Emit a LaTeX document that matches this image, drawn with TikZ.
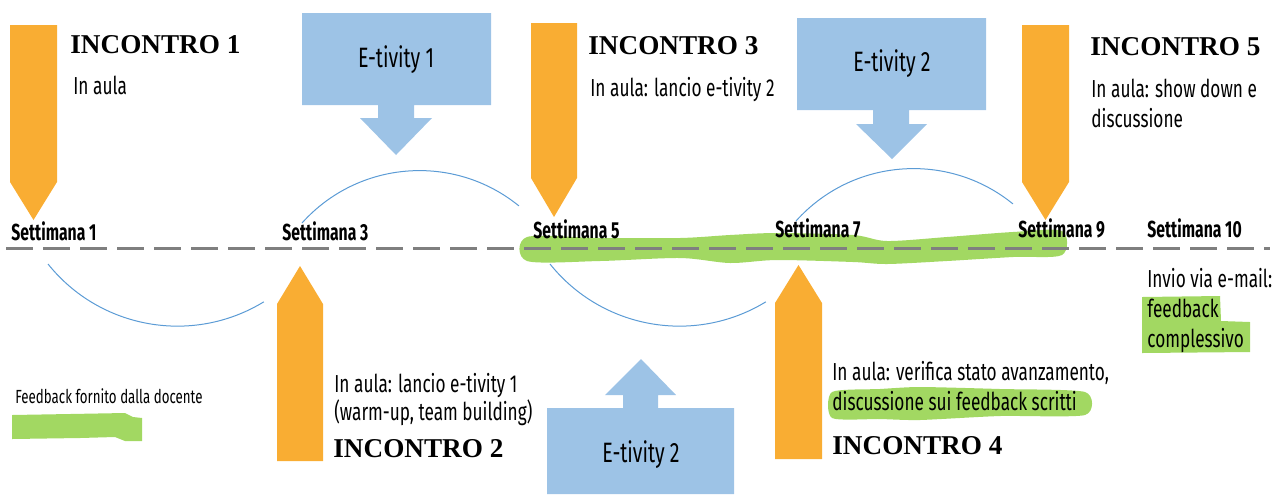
\documentclass[tikz,border=0pt]{standalone}
\usepackage{fontspec}
\newfontfamily\cond[FakeStretch=0.70]{Fira Sans}
\newfontfamily\condb[FakeStretch=0.68]{Fira Sans}
\newfontfamily\incf{Liberation Serif}
\definecolor{orng}{HTML}{F9AD33}
\definecolor{bluef}{HTML}{9DC3E6}
\definecolor{arcc}{HTML}{5B9BD5}
\definecolor{grn}{HTML}{A2D862}
\definecolor{dashg}{HTML}{7F7F7F}
\begin{document}
\begin{tikzpicture}[x=0.5pt,y=-0.5pt,
  week/.style={font=\condb\bfseries\fontsize{11.6}{14}\selectfont, anchor=base west, inner sep=0},
  lbl/.style={font=\cond\fontsize{12.3}{14.5}\selectfont, anchor=base west, inner sep=0},
  inc/.style={font=\incf\bfseries\fontsize{13.6}{16}\selectfont, anchor=base west, inner sep=0},
  etv/.style={font=\cond\fontsize{14}{17}\selectfont, inner sep=0},
  legend/.style={font=\cond\fontsize{9.5}{12}\selectfont, anchor=base west, inner sep=0},
  orangearrow/.style={fill=orng, draw=none},
  bluearrow/.style={fill=bluef, draw=none},
  arcline/.style={draw=arcc, line width=0.5pt},
  highlight/.style={fill=grn, draw=none}
]
\useasboundingbox (0,0) rectangle (1273,494);

% green highlights
\fill[highlight] plot[smooth cycle, tension=0.5] coordinates {
  (527,237) (600,238) (680,238) (730,235) (777,233) (853,235) (887,241) (947,237) (1013,232) (1062,231)
  (1062,255) (1013,257) (947,261) (887,264) (853,262) (777,260) (730,263) (680,258) (600,261) (527,261)};
\fill[highlight] (527,237) rectangle (540,261);
\fill[highlight] (1050,231) rectangle (1062,255);
\fill[highlight] plot[smooth cycle, tension=0.4] coordinates {
  (832,392) (880,389) (920,387) (1000,389) (1085,392) (1085,415) (1000,416) (920,420) (880,419) (832,418)};
\fill[highlight] (1142,297) -- (1220,296) -- (1221,321) -- (1250,322) -- (1250,352) -- (1142,353) -- cycle;
\fill[highlight] (12,415) -- (70,414) -- (125,413) -- (133,417) -- (142,418) -- (142,441) -- (125,441) -- (115,437) -- (80,438) -- (12,439) -- cycle;

% dashed timeline
\draw[dashg, line width=1.5pt, dash pattern=on 13.5pt off 5pt] (6,248) -- (1270,248);

% arcs (circle segments)
\draw[arcline] (302,223) arc[start angle=-138.1, end angle=-50.9, radius=157.8];
\draw[arcline] (796,221) arc[start angle=-138.1, end angle=-50.9, radius=157.8];
\draw[arcline] (48,264) arc[start angle=141.3, end angle=58.6, radius=165.8];
\draw[arcline] (550,264) arc[start angle=141.3, end angle=58.6, radius=165.8];

% orange arrows
\fill[orangearrow] (10,25) -- (57,25) -- (57,182) -- (33.5,220) -- (10,182) -- cycle;
\fill[orangearrow] (531,23) -- (577,23) -- (577,178) -- (554,217) -- (531,178) -- cycle;
\fill[orangearrow] (1022,25) -- (1069,25) -- (1069,182) -- (1045.5,220) -- (1022,182) -- cycle;
\fill[orangearrow] (277,461) -- (323,461) -- (323,304) -- (300,266) -- (277,304) -- cycle;
\fill[orangearrow] (775,459) -- (822,459) -- (822,303) -- (798.5,265) -- (775,303) -- cycle;

% blue callouts
\fill[bluearrow] (302,13) -- (491,13) -- (491,105) -- (414,105) -- (414,118) -- (432,118) -- (396,155) -- (360,118) -- (378,118) -- (378,105) -- (302,105) -- cycle;
\fill[bluearrow] (797,18) -- (986,18) -- (986,110) -- (909,110) -- (909,124) -- (927,124) -- (892,159) -- (856,124) -- (873,124) -- (873,110) -- (797,110) -- cycle;
\fill[bluearrow] (547,494) -- (547,408) -- (623,408) -- (623,395) -- (605,395) -- (641,359) -- (676,395) -- (658,395) -- (658,408) -- (734,408) -- (734,494) -- cycle;

\node[etv] (e1) at (396,60) {E-tivity 1};
\node[etv] (e2) at (892,64) {E-tivity 2};
\node[etv] (e3) at (641,455) {E-tivity 2};

% weeks
\node[week] (w1) at (11,240) {Settimana 1};
\node[week] (w3) at (282,240) {Settimana 3};
\node[week] (w5) at (533,238) {Settimana 5};
\node[week] (w7) at (775,237) {Settimana 7};
\node[week] (w9) at (1018,237) {Settimana 9};
\node[week] (w10) at (1147,237) {Settimana 10};

% incontri
\node[inc] (i1) at (70,53) {INCONTRO 1};
\node[lbl] (t1) at (73,94) {In aula};
\node[inc] (i3) at (588,54) {INCONTRO 3};
\node[lbl] (t3) at (590,96) {In aula: lancio e-tivity 2};
\node[inc] (i5) at (1090,55) {INCONTRO 5};
\node[lbl] (t5a) at (1091,97) {In aula: show down e};
\node[lbl] (t5b) at (1091,127) {discussione};
\node[lbl] (t2a) at (334,392) {In aula: lancio e-tivity 1};
\node[lbl] (t2b) at (334,420) {(warm-up, team building)};
\node[inc] (i2) at (333,457) {INCONTRO 2};
\node[lbl] (t4a) at (832,380) {In aula: verifica stato avanzamento,};
\node[lbl] (t4b) at (832,410) {discussione sui feedback scritti};
\node[inc] (i4) at (832,454) {INCONTRO 4};
\node[lbl] (t10a) at (1147,287) {Invio via e-mail:};
\node[lbl] (t10b) at (1147,317) {feedback};
\node[lbl] (t10c) at (1147,347) {complessivo};
\node[legend] (lg) at (15,403) {Feedback fornito dalla docente};
\end{tikzpicture}
\end{document}
